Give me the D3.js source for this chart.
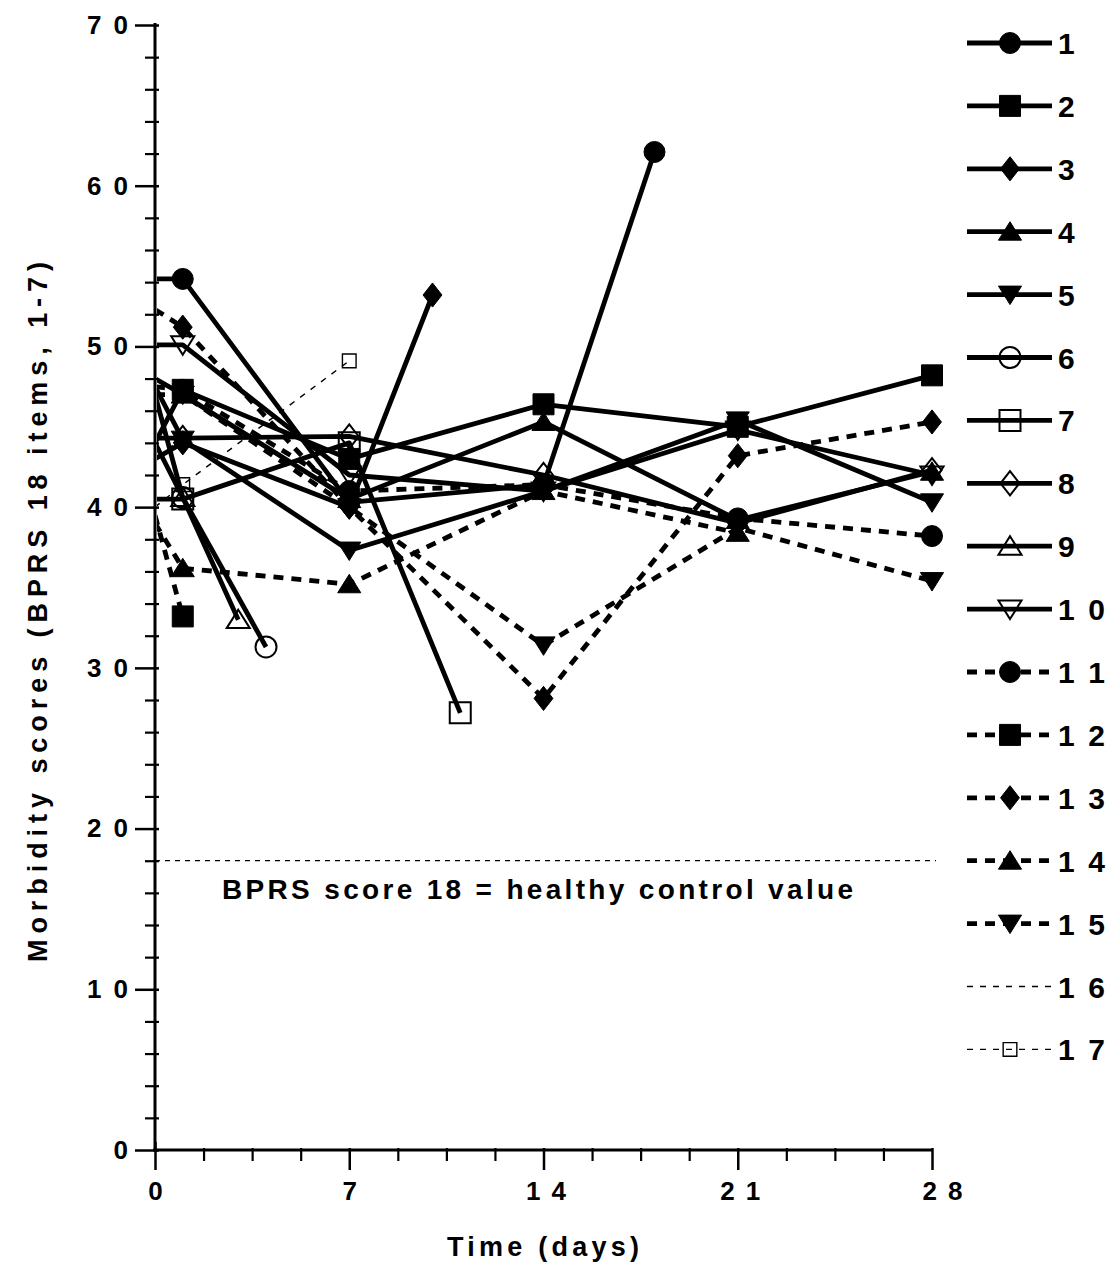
<!DOCTYPE html>
<html><head><meta charset="utf-8">
<script src="https://cdn.jsdelivr.net/npm/d3@7"></script>
<style>
body{margin:0;background:#fff}
text{font-family:"Liberation Sans",Arial,sans-serif;font-weight:bold;fill:#000}
</style>
</head><body>
<svg id="chart" width="1113" height="1263"></svg>
<script>
// ---------- data ----------
const xTickValues = [0, 7, 14, 21, 28];
const yTickValues = [0, 10, 20, 30, 40, 50, 60, 70];
const seriesLabels = ["1","2","3","4","5","6","7","8","9","10","11","12","13","14","15","16","17"];
const healthyValue = 18;
const healthyLabel = "BPRS score 18 = healthy control value";
const xTitle = "Time (days)";
const yTitle = "Morbidity scores (BPRS 18 items, 1-7)";

// [day, score]
const s1  = [[0,54.2],[1,54.2],[7,40.3],[14,41.4],[18,62.1]];
const s2  = [[0,44.0],[1,47.3],[7,43.0],[14,46.4],[21,45.0],[28,48.2]];
const s3  = [[0,43.0],[1,44.0],[7,40.0],[10,53.2]];
const s4  = [[0,48.0],[1,47.0],[7,40.5],[14,45.3],[21,39.2],[28,42.2]];
const s5  = [[0,47.5],[1,44.2],[7,37.3],[14,41.0],[21,45.4],[28,40.3]];
const s6  = [[0,44.0],[1,40.6],[4,31.3]];
const s7  = [[0,40.5],[1,40.5],[7,44.0],[11,27.2]];
const s8  = [[0,44.3],[1,44.3],[7,44.4],[14,42.0],[21,39.0],[28,42.3]];
const s9  = [[0,47.0],[1,40.6],[3,33.0]];
const s10 = [[0,50.1],[1,50.1],[7,42.0],[14,41.0],[21,44.8],[28,42.0]];
const s11 = [[0,47.5],[1,47.3],[7,41.0],[14,41.4],[21,39.3],[28,38.2]];
const s12 = [[0,39.5],[1,33.2]];
const s13 = [[0,52.3],[1,51.2],[7,40.0],[14,28.1],[21,43.2],[28,45.3]];
const s14 = [[0,39.0],[1,36.2],[7,35.2],[14,41.0],[21,38.4]];
const s15 = [[0,47.0],[1,47.0],[7,40.0],[14,31.4],[21,38.7],[28,35.4]];
const s16 = [[0,43.5],[1,44.0]];
const s17 = [[0,40.0],[1,41.4],[7,49.1]];
const allSeries = [s1,s2,s3,s4,s5,s6,s7,s8,s9,s10,s11,s12,s13,s14,s15,s16,s17];

// ---------- styles ----------
const markerType = ["circle","square","diamond","tri","triDown","circle","square","diamond","tri","triDown",
                    "circle","square","diamond","tri","triDown","none","smallSquare"];
const markerFilled = [1,1,1,1,1,0,0,0,0,0,1,1,1,1,1,0,0];
const lineKind = ["solid","solid","solid","solid","solid","solid","solid","solid","solid","solid",
                  "dash","dash","dash","dash","dash","thin","thin"];

const svg = d3.select("#chart");
const x = d3.scaleLinear().domain([0, 28]).range([155, 932]);
const y = d3.scaleLinear().domain([0, 70]).range([1150, 25]);

const shapes = {
  circle: {draw(c, s){ c.moveTo(s,0); c.arc(0,0,s,0,2*Math.PI); }},
  square: {draw(c, s){ c.rect(-s,-s,2*s,2*s); }},
  smallSquare: {draw(c, s){ const h=s*0.65; c.rect(-h,-h,2*h,2*h); }},
  diamond: {draw(c, s){ const h=s*1.15, w=s*0.9; c.moveTo(0,-h); c.lineTo(w,0); c.lineTo(0,h); c.lineTo(-w,0); c.closePath(); }},
  tri: {draw(c, s){ const w=s*1.1, h=s*0.95; c.moveTo(0,-h); c.lineTo(w,h*0.85); c.lineTo(-w,h*0.85); c.closePath(); }},
  triDown: {draw(c, s){ const w=s*1.1, h=s*0.95; c.moveTo(0,h); c.lineTo(w,-h*0.85); c.lineTo(-w,-h*0.85); c.closePath(); }}
};
const symbolFor = (t, s) => d3.symbol().type(shapes[t]).size(s)();

function styleLine(sel, kind){
  if (kind === "solid") sel.attr("stroke-width", 4.8);
  else if (kind === "dash") sel.attr("stroke-width", 4.8).attr("stroke-dasharray", "10,8");
  else sel.attr("stroke-width", 1.4).attr("stroke-dasharray", "6,7");
}
function styleMarker(sel, i){
  if (markerFilled[i]) sel.attr("fill", "#000").attr("stroke", "#000").attr("stroke-width", 1);
  else sel.attr("fill", "none").attr("stroke", "#000").attr("stroke-width", i === 16 ? 1.4 : 2);
}

// ---------- axes ----------
const yMinor = d3.range(0, 71, 2).filter(v => v % 10 !== 0);
const yAxisMinor = svg.append("g").attr("transform", "translate(155,0)")
  .call(d3.axisLeft(y).tickValues(yMinor).tickSize(10).tickFormat(""));
yAxisMinor.selectAll("line").attr("x2", -10).attr("x1", 4).attr("stroke-width", 2.2);
yAxisMinor.select(".domain").remove();
const yAxis = svg.append("g").attr("transform", "translate(155,0)")
  .call(d3.axisLeft(y).tickValues(yTickValues).tickSize(20).tickPadding(7).tickSizeOuter(0));
yAxis.select(".domain").attr("stroke-width", 3).attr("d", `M0,${y(70)-2}V${y(0)}`);
yAxis.selectAll(".tick line").attr("x1", 4).attr("stroke-width", 2.5);
yAxis.selectAll(".tick text").attr("font-size", 26).attr("font-family", null).attr("x", -27)
  .each(function(d){ if (String(d).length > 1) d3.select(this).attr("textLength", 41).attr("lengthAdjust", "spacing"); });

const xMinor = d3.range(0, 28.01, 1.75).filter(v => v % 7 !== 0);
const xAxisMinor = svg.append("g").attr("transform", "translate(0,1150)")
  .call(d3.axisBottom(x).tickValues(xMinor).tickSize(11).tickFormat(""));
xAxisMinor.selectAll("line").attr("stroke-width", 2.2).attr("y1", -2);
xAxisMinor.select(".domain").remove();
const xAxis = svg.append("g").attr("transform", "translate(0,1150)")
  .call(d3.axisBottom(x).tickValues(xTickValues).tickSize(20).tickPadding(12).tickSizeOuter(0));
xAxis.select(".domain").attr("stroke-width", 3).attr("d", `M${x(0)-2},0H${x(28)+1}`);
xAxis.selectAll(".tick line").attr("stroke-width", 2.5).attr("y1", d => d === 0 ? -8 : -2);
xAxis.selectAll(".tick text").attr("font-size", 26).attr("font-family", null)
  .each(function(d){ if (String(d).length > 1) d3.select(this).attr("textLength", 40).attr("lengthAdjust", "spacing"); })
  .attr("dx", d => d === 28 ? 10 : (d >= 14 ? 2 : 0));

svg.append("text").attr("x", 543).attr("y", 1256).attr("text-anchor", "middle")
  .attr("font-size", 27).attr("textLength", 192).attr("lengthAdjust", "spacing").text(xTitle);
svg.append("text").attr("transform", "translate(47,612) rotate(-90)").attr("text-anchor", "middle")
  .attr("font-size", 27).attr("textLength", 700).attr("lengthAdjust", "spacing").text(yTitle);

// ---------- healthy control line ----------
svg.append("line").attr("x1", x(0)).attr("x2", x(28) + 4).attr("y1", y(healthyValue)).attr("y2", y(healthyValue))
  .attr("stroke", "#000").attr("stroke-width", 1.2).attr("stroke-dasharray", "5,5");
svg.append("text").attr("x", 222).attr("y", 899).attr("font-size", 28)
  .attr("textLength", 631).attr("lengthAdjust", "spacing").text(healthyLabel);

// ---------- series ----------
svg.append("defs").append("clipPath").attr("id", "plotClip").append("rect")
  .attr("x", 157).attr("y", 0).attr("width", 900).attr("height", 1148);
const plot = svg.append("g").attr("clip-path", "url(#plotClip)");
const line = d3.line().x(d => x(d[0])).y(d => y(d[1]));

allSeries.forEach((s, i) => {
  plot.append("path").datum(s).attr("d", line).attr("fill", "none").attr("stroke", "#000")
    .attr("stroke-linejoin", "round").call(styleLine, lineKind[i]);
});
allSeries.forEach((s, i) => {
  if (markerType[i] === "none") return;
  plot.selectAll(null).data(s.filter(d => d[0] > 0)).enter().append("path")
    .attr("transform", d => `translate(${x(d[0])},${y(d[1])})`)
    .attr("d", symbolFor(markerType[i], 10.5))
    .call(styleMarker, i);
});

// ---------- legend ----------
const legend = svg.append("g");
seriesLabels.forEach((lab, i) => {
  const ly = 43 + i * 62.9;
  const g = legend.append("g").attr("transform", `translate(0,${ly})`);
  g.append("line").attr("x1", 967).attr("x2", 1052).attr("y1", 0).attr("y2", 0)
    .attr("stroke", "#000").call(styleLine, lineKind[i]);
  if (markerType[i] !== "none") {
    g.append("path").attr("transform", "translate(1010,0)")
      .attr("d", symbolFor(markerType[i], 10.5)).call(styleMarker, i);
  }
  const t = g.append("text").attr("x", 1058).attr("y", 11).attr("font-size", 30).text(lab);
  if (lab.length > 1) t.attr("textLength", 47).attr("lengthAdjust", "spacing");
});
</script>
</body></html>
